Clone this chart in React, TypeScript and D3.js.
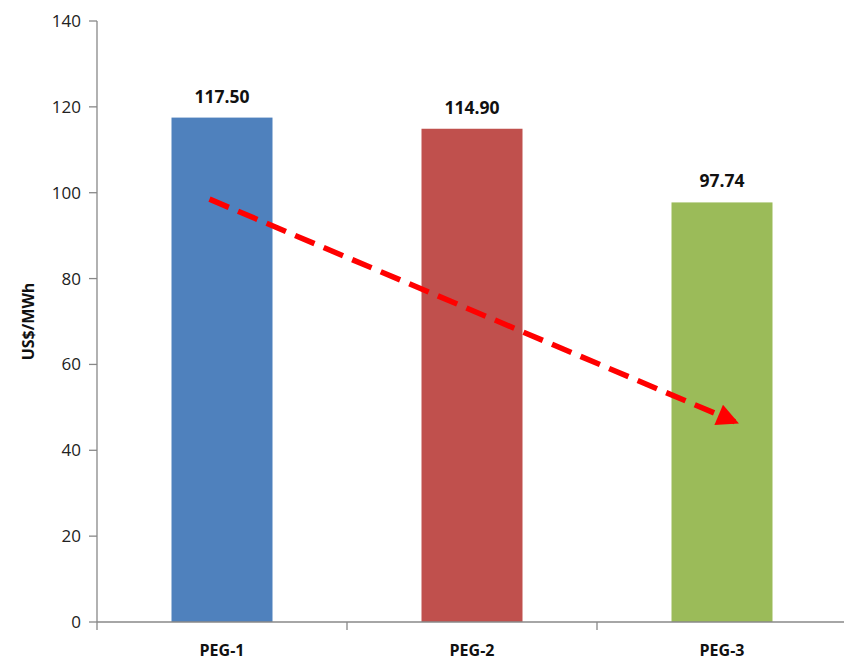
import * as d3 from "d3";

const categories = ["PEG-1", "PEG-2", "PEG-3"];
const values = [117.5, 114.9, 97.74];
const labels = ["117.50", "114.90", "97.74"];
const colors = ["#4F81BD", "#C0504D", "#9BBB59"];
const yTicks = [0, 20, 40, 60, 80, 100, 120, 140];
// trend arrow: [category, offset within step (0..1), value]
const arrowFrom: [string, number, number] = ["PEG-1", 0.45, 98.5];
const arrowTo: [string, number, number] = ["PEG-3", 0.57, 46.2];

const width = 844;
const height = 660;
const marginLeft = 97;
const marginRight = -3;
const marginTop = 21;
const marginBottom = 38;

export default function App() {
  const x = d3
    .scaleBand<string>()
    .domain(categories)
    .range([marginLeft, width - marginRight])
    .paddingInner(0.596)
    .paddingOuter(0.298);
  const y = d3.scaleLinear([0, 140], [height - marginBottom, marginTop]);
  const font = "'Open Sans', 'Liberation Sans', sans-serif";

  const ax = (p: [string, number, number]) => (x(p[0]) as number) - (x.step() - x.bandwidth()) / 2 + x.step() * p[1];
  const x1 = ax(arrowFrom), y1 = y(arrowFrom[2]);
  const x2 = ax(arrowTo), y2 = y(arrowTo[2]);
  const ang = Math.atan2(y2 - y1, x2 - x1);
  const back = 5;

  return (
    <svg
      width={width}
      height={height}
      style={{ position: "absolute", left: 0, top: 0, background: "white" }}
      fontFamily={font}
    >
      <defs>
        <marker id="head" viewBox="0 0 10 10" refX="8" refY="5" markerWidth="4.4" markerHeight="4" orient="auto" markerUnits="strokeWidth">
          <path d="M0,0 L10,5 L0,10 z" fill="#FF0000" />
        </marker>
      </defs>
      {values.map((v, i) => (
        <g key={categories[i]}>
          <rect
            x={x(categories[i])}
            y={y(v)}
            width={x.bandwidth()}
            height={y(0) - y(v)}
            fill={colors[i]}
          />
          <text
            x={(x(categories[i]) as number) + x.bandwidth() / 2}
            y={y(v) - 15}
            textAnchor="middle"
            fontSize={17.5}
            fontWeight="bold"
            fill="#111"
          >
            {labels[i]}
          </text>
        </g>
      ))}
      {/* y axis */}
      <line x1={marginLeft} x2={marginLeft} y1={y(140)} y2={y(0)} stroke="#888" strokeWidth={1.3} />
      {yTicks.map((t) => (
        <g key={t} transform={`translate(0,${y(t)})`}>
          <line x1={marginLeft - 8} x2={marginLeft} stroke="#888" strokeWidth={1.3} />
          <text x={marginLeft - 16} dy="0.35em" textAnchor="end" fontSize={17} fill="#222">
            {t}
          </text>
        </g>
      ))}
      {/* x axis */}
      <line x1={marginLeft} x2={width} y1={y(0)} y2={y(0)} stroke="#888" strokeWidth={1.3} />
      {categories.map((c, i) => {
        const left = (x(c) as number) - (x.step() - x.bandwidth()) / 2;
        return (
          <g key={c}>
            <line x1={left} x2={left} y1={y(0)} y2={y(0) + 8} stroke="#888" strokeWidth={1.3} />
            {i === categories.length - 1 && (
              <line x1={left + x.step()} x2={left + x.step()} y1={y(0)} y2={y(0) + 8} stroke="#888" strokeWidth={1.3} />
            )}
            <text
              x={(x(c) as number) + x.bandwidth() / 2}
              y={y(0) + 34}
              textAnchor="middle"
              fontSize={16}
              fontWeight="bold"
              fill="#111"
            >
              {c}
            </text>
          </g>
        );
      })}
      <text
        transform={`translate(34,${(y(0) + y(140)) / 2}) rotate(-90)`}
        textAnchor="middle"
        fontSize={16}
        fontWeight="bold"
        fill="#111"
      >
        US$/MWh
      </text>
      {/* trend arrow */}
      <line
        x1={x1}
        y1={y1}
        x2={x2 - back * Math.cos(ang)}
        y2={y2 - back * Math.sin(ang)}
        stroke="#FF0000"
        strokeWidth={5.5}
        strokeDasharray="21 10"
        markerEnd="url(#head)"
      />
    </svg>
  );
}
